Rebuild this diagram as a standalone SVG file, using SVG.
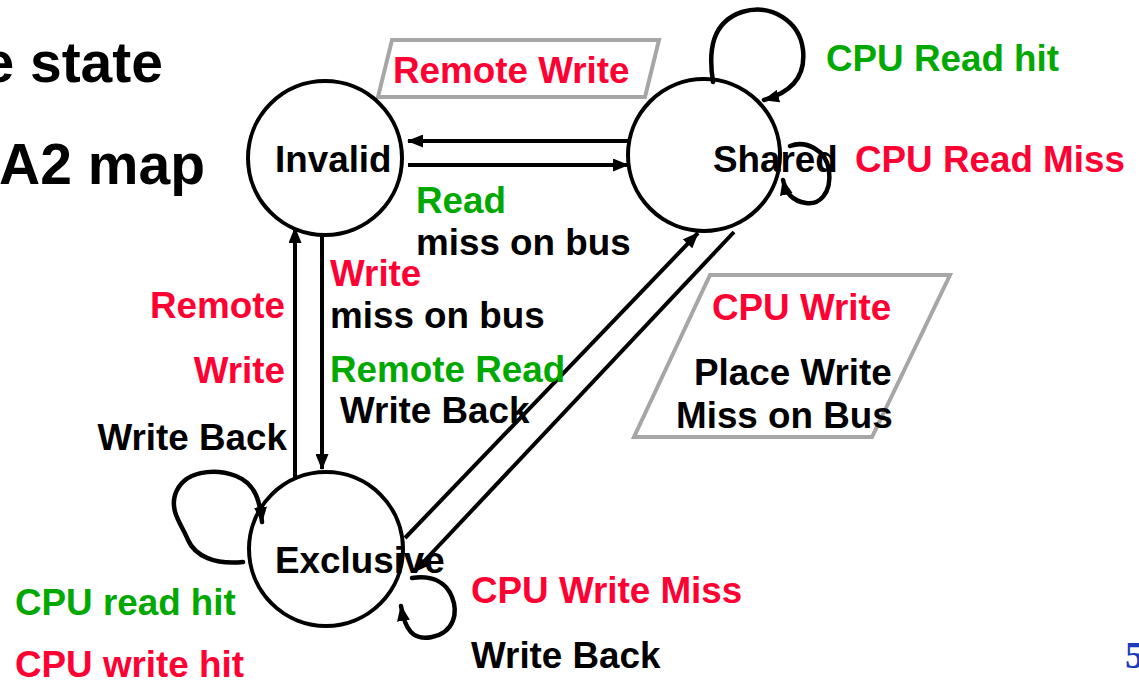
<svg xmlns="http://www.w3.org/2000/svg" width="1139" height="683" viewBox="0 0 1139 683">
  <style>
    text { font-family: "Liberation Sans", Arial, sans-serif; font-weight: bold; font-size: 36.8px; }
    .red { fill: #FF0033; }
    .green { fill: #00A800; }
    .black { fill: #000000; }
    .title { font-size: 57px; }
    .state { fill: none; stroke: #000000; stroke-width: 4; }
    .box { fill: #ffffff; stroke: #A6A6A6; stroke-width: 4; }
    .edge { fill: none; stroke: #000000; stroke-width: 4; }
    .loop { fill: none; stroke: #000000; stroke-width: 4.5; stroke-linejoin: round; stroke-linecap: round; }
    .page { font-family: "Liberation Serif", "Times New Roman", serif; font-size: 38px; fill: #1A3CB8; }
  </style>
  <defs>
    <marker id="arrow" viewBox="0 0 16 13" refX="15" refY="6.5" markerWidth="16" markerHeight="13" markerUnits="userSpaceOnUse" orient="auto">
      <path d="M0,0 L16,6.5 L0,13 Z" fill="#000000"/>
    </marker>
  </defs>

  <rect width="1139" height="683" fill="#ffffff"/>

  <!-- slide title fragments -->
  <text class="black title" x="163" y="82" text-anchor="end">e state</text>
  <text class="black title" x="205" y="184" text-anchor="end">A2 map</text>

  <!-- label boxes -->
  <g id="box-remote-write">
    <polygon class="box" points="392,40 659,40 645,97 378,97"/>
    <text class="red" x="393" y="83">Remote Write</text>
  </g>
  <g id="box-cpu-write">
    <polygon class="box" points="710,275 950,275 872,437 634,437"/>
    <text class="red" x="712" y="320">CPU Write</text>
    <text class="black" x="694" y="385">Place Write</text>
    <text class="black" x="676" y="428">Miss on Bus</text>
  </g>

  <!-- transitions -->
  <g id="connectors">
    <line class="edge" x1="628" y1="141" x2="408" y2="141" marker-end="url(#arrow)"/>
    <line class="edge" x1="408" y1="165" x2="628" y2="165" marker-end="url(#arrow)"/>
    <line class="edge" x1="295" y1="478" x2="295" y2="228" marker-end="url(#arrow)"/>
    <line class="edge" x1="322" y1="236" x2="322" y2="469" marker-end="url(#arrow)"/>
    <line class="edge" x1="405" y1="538" x2="698" y2="233" marker-end="url(#arrow)"/>
    <line class="edge" x1="734" y1="232" x2="414" y2="572" marker-end="url(#arrow)"/>
    <path class="loop" d="M713,82 C708,50 712,22 742,12 C772,3 800,22 803,50 C806,78 790,93 764,100" marker-end="url(#arrow)"/>
    <path class="loop" d="M790,146 C806,140 826,150 829,170 C832,195 818,205 806,203 C792,201 786,193 783,180" marker-end="url(#arrow)"/>
    <path class="loop" d="M243,562 C215,565 195,556 188,540 C182,525 170,512 175,495 C183,470 215,468 236,476 C256,484 260,502 262,522" marker-end="url(#arrow)"/>
    <path class="loop" d="M412,578 C432,575 446,582 452,597 C458,612 455,632 432,637 C413,641 405,630 401,606" marker-end="url(#arrow)"/>
  </g>

  <!-- states -->
  <g id="state-invalid">
    <circle class="state" cx="325" cy="158" r="77"/>
    <text class="black" x="275" y="172">Invalid</text>
  </g>
  <g id="state-shared">
    <circle class="state" cx="704" cy="155" r="76"/>
    <text class="black" x="713" y="172">Shared</text>
  </g>
  <g id="state-exclusive">
    <circle class="state" cx="326" cy="549" r="77"/>
    <text class="black" x="275" y="573">Exclusive</text>
  </g>

  <!-- transition labels -->
  <g id="labels">
    <text class="green" x="826" y="71">CPU Read hit</text>
    <text class="red" x="855" y="172">CPU Read Miss</text>
    <text class="green" x="416" y="213">Read</text>
    <text class="black" x="416" y="255">miss on bus</text>
    <text class="red" x="330" y="286">Write</text>
    <text class="black" x="330" y="328">miss on bus</text>
    <text class="green" x="330" y="382">Remote Read</text>
    <text class="black" x="340" y="423">Write Back</text>
    <text class="red" x="285" y="318" text-anchor="end">Remote</text>
    <text class="red" x="285" y="383" text-anchor="end">Write</text>
    <text class="black" x="287" y="450" text-anchor="end">Write Back</text>
    <text class="green" x="15" y="615">CPU read hit</text>
    <text class="red" x="15" y="677">CPU write hit</text>
    <text class="red" x="471" y="603">CPU Write Miss</text>
    <text class="black" x="471" y="668">Write Back</text>
  </g>

  <!-- page number -->
  <text class="page" x="1125" y="668">5</text>
</svg>
